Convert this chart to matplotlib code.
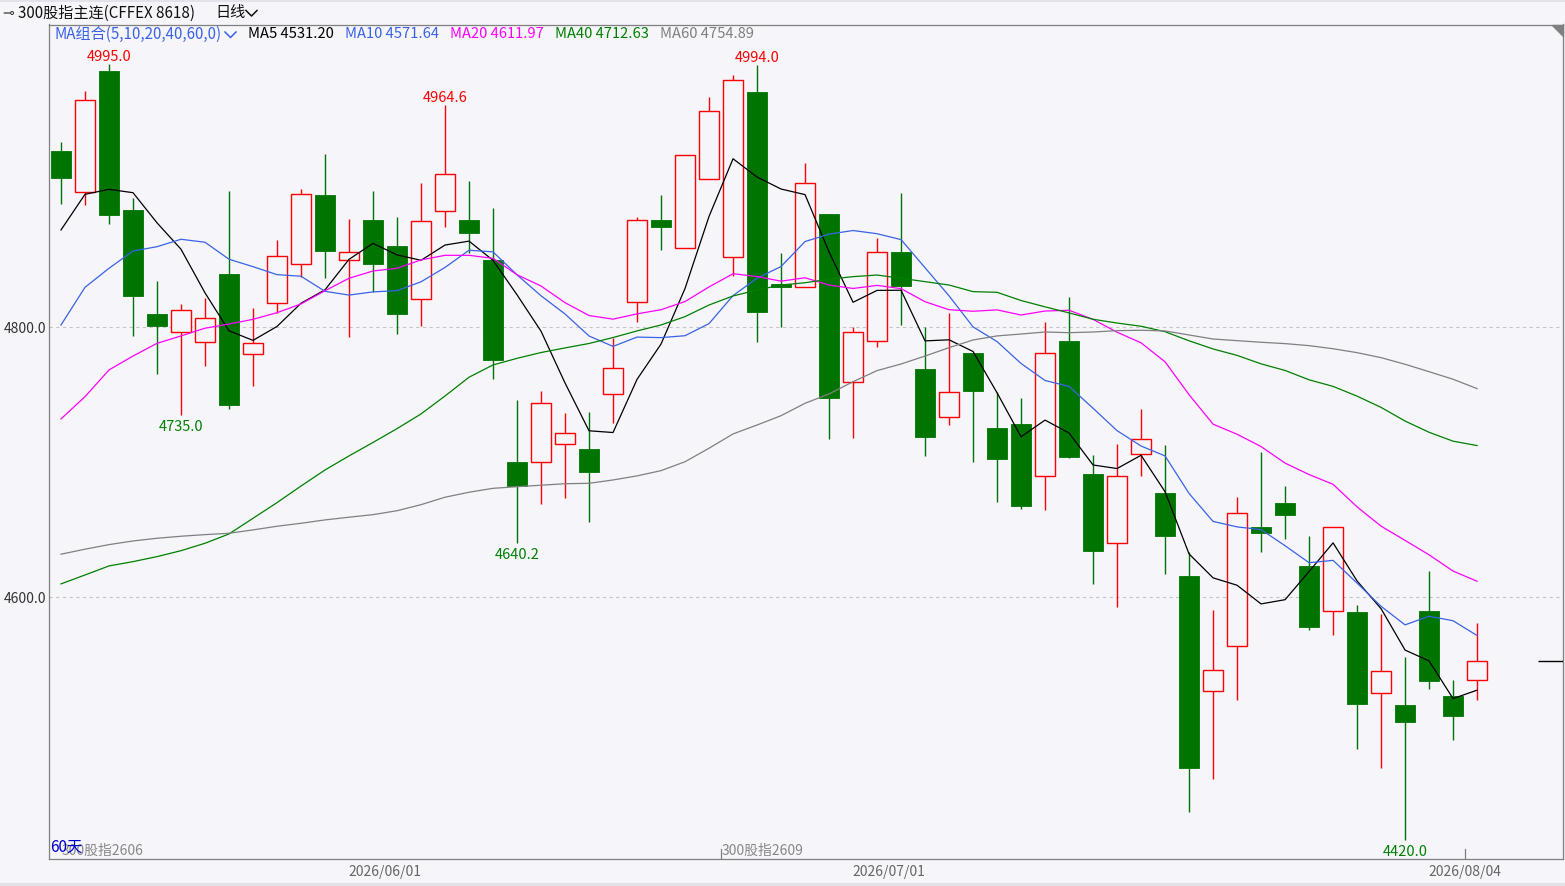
#%% Import
import numpy as np
import pandas as pd
import matplotlib.pyplot as plt
from matplotlib.patches import Rectangle, Polygon
from matplotlib.lines import Line2D

plt.rcParams['font.family'] = ['Noto Sans CJK SC', 'DejaVu Sans']

#%% Data (daily bars, 60 days)
open_ = [4930.6, 4900.4, 4989.9, 4886.9, 4809.9, 4796.7, 4789.3, 4839.5, 4780.0, 4817.8,
         4846.7, 4898.0, 4849.6, 4879.5, 4860.2, 4820.7, 4885.9, 4879.5, 4849.9, 4700.2,
         4700.0, 4713.3, 4709.9, 4750.4, 4818.5, 4879.3, 4858.5, 4909.6, 4851.9, 4974.3,
         4832.1, 4829.6, 4883.9, 4759.3, 4789.6, 4855.8, 4769.1, 4733.3, 4781.0, 4725.4,
         4728.4, 4689.6, 4789.9, 4691.3, 4640.0, 4705.9, 4677.3, 4615.8, 4530.4, 4563.7,
         4652.1, 4669.9, 4623.2, 4589.6, 4589.1, 4528.9, 4520.2, 4589.9, 4526.9, 4538.5]
high = [4937.5, 4975.3, 4995.0, 4895.6, 4834.5, 4817.3, 4821.7, 4901.0, 4814.5, 4864.7,
        4902.4, 4928.4, 4880.2, 4901.0, 4881.7, 4906.9, 4964.6, 4908.6, 4888.6, 4746.1,
        4752.8, 4736.5, 4737.3, 4792.3, 4881.5, 4898.0, 4927.4, 4970.6, 4986.9, 4994.0,
        4855.3, 4921.5, 4883.9, 4800.4, 4865.9, 4899.7, 4800.0, 4810.6, 4781.0, 4752.3,
        4747.6, 4803.9, 4822.4, 4705.4, 4713.6, 4739.5, 4712.8, 4633.8, 4590.6, 4674.3,
        4707.6, 4682.4, 4645.4, 4651.9, 4594.3, 4587.6, 4555.8, 4619.5, 4538.7, 4581.0]
low = [4891.3, 4890.6, 4876.7, 4793.8, 4765.2, 4735.0, 4771.6, 4739.7, 4756.7, 4810.4,
       4837.5, 4836.7, 4793.0, 4825.9, 4795.3, 4801.2, 4874.5, 4854.8, 4761.9, 4640.2,
       4669.3, 4673.8, 4656.0, 4729.3, 4804.1, 4857.3, 4858.5, 4909.6, 4838.0, 4789.3,
       4800.4, 4829.6, 4717.0, 4718.2, 4785.6, 4801.7, 4704.9, 4727.6, 4700.4, 4670.8,
       4665.6, 4664.9, 4703.4, 4610.1, 4593.0, 4690.1, 4617.5, 4441.2, 4465.2, 4524.1,
       4633.8, 4643.4, 4576.0, 4572.3, 4487.9, 4473.8, 4420.0, 4532.3, 4494.5, 4524.1]
close = [4910.8, 4968.4, 4883.4, 4823.4, 4801.0, 4812.8, 4806.9, 4742.7, 4788.1, 4852.6,
         4898.7, 4856.7, 4855.6, 4847.1, 4810.1, 4878.5, 4913.3, 4870.1, 4776.0, 4682.4,
         4743.7, 4721.5, 4693.0, 4769.6, 4879.3, 4874.5, 4927.4, 4960.0, 4983.0, 4811.6,
         4830.1, 4906.7, 4747.9, 4796.3, 4855.6, 4830.8, 4719.0, 4751.9, 4753.0, 4702.7,
         4667.9, 4780.7, 4704.1, 4634.5, 4689.6, 4717.0, 4645.6, 4473.8, 4545.9, 4662.2,
         4647.9, 4661.2, 4578.2, 4651.9, 4521.2, 4545.2, 4507.9, 4538.0, 4512.3, 4552.6]

# moving average values before enough bars exist in the window
ma5_head = [4872.1, 4898.5, 4902.2, 4899.7]
ma10_head = [4801.7, 4829.6, 4843.7, 4856.5, 4859.7, 4865.2, 4863.0, 4850.4, 4844.9]
ma20_head = [4732.1, 4748.6, 4768.4, 4778.7, 4788.1, 4793.6, 4799.3, 4802.4, 4805.9, 4810.8,
             4817.3, 4827.1, 4836.3, 4841.7, 4843.7, 4849.9, 4853.3, 4853.3, 4851.1]
ma40_head = [4609.9, 4616.5, 4623.2, 4626.4, 4630.1, 4634.5, 4640.0, 4646.9, 4658.5, 4670.1,
             4682.4, 4694.3, 4704.7, 4714.7, 4724.9, 4735.8, 4749.1, 4763.0, 4772.1, 4777.0,
             4781.3, 4784.7, 4788.0, 4792.4, 4797.3, 4801.7, 4807.9, 4816.5, 4823.2, 4827.6,
             4831.3, 4833.0, 4835.6, 4837.5, 4838.7, 4836.3, 4833.8, 4831.3, 4826.4]
ma60_head = [4631.9, 4635.6, 4639.0, 4641.7, 4643.7, 4645.2, 4646.4, 4647.4, 4649.9, 4652.6,
             4654.8, 4657.3, 4659.3, 4661.2, 4664.1, 4668.6, 4674.1, 4677.8, 4680.7, 4681.9,
             4683.0, 4684.1, 4684.4, 4686.9, 4689.9, 4693.8, 4700.4, 4710.4, 4721.0, 4727.6,
             4734.5, 4743.7, 4750.6, 4759.7, 4767.9, 4772.8, 4778.7, 4784.9, 4790.6, 4793.6,
             4795.0, 4796.5, 4796.0, 4796.5, 4797.5, 4797.8, 4797.3, 4794.3, 4791.3, 4790.1,
             4788.9, 4787.9, 4786.4, 4784.1, 4781.2, 4777.5, 4772.6, 4767.1, 4761.5]

ma_names = ['MA5', 'MA10', 'MA20', 'MA40', 'MA60']
ma_last = ['4531.20', '4571.64', '4611.97', '4712.63', '4754.89']

high_marks = [2, 16, 29]
low_marks = [5, 19, 56]

date_pos = [13.5, 34.5, 58.5]
date_labels = ['2026/06/01', '2026/07/01', '2026/08/04']
contract_pos = [0.0, 27.5]
contract_labels = ['300股指2606', '300股指2609']

#%% Styles
W, H = 1565, 886
bg = '#F5F5FA'
up_col = '#FF0000'
dn_col = '#007400'
ma_cols = ['#000000', '#3A62E8', '#FF00FF', '#008000', '#808080']


def moving_avg(head, n):
    tail = pd.Series(close).rolling(n).mean().to_numpy()[n - 1:]
    return np.concatenate([head, tail])


mas = [moving_avg(ma5_head, 5), moving_avg(ma10_head, 10), moving_avg(ma20_head, 20),
       moving_avg(ma40_head, 40), moving_avg(ma60_head, 60)]

#%% Figure
fig = plt.figure(figsize=(W / 100, H / 100), dpi=100, facecolor=bg)
ax = fig.add_axes([49 / W, 1 - 859 / H, (1563 - 49) / W, (859 - 24.5) / H])
ax.set_facecolor(bg)
ax.set_xlim(-0.5, 62.58)
ax.set_ylim(4406.1, 5024.3)

for s in ax.spines.values():
    s.set_color('#808080')
    s.set_linewidth(0.9)

# dashed price grid
for lvl in [4600, 4800]:
    ax.axhline(lvl, color='#C4C4C4', lw=0.8, dashes=(3, 3), zorder=1)

# candles
bw = 0.82
n = len(close)
x = np.arange(n)
for i in range(n):
    o, h, l, c = open_[i], high[i], low[i], close[i]
    top, bot = max(o, c), min(o, c)
    body_h = max(top - bot, 0.6)
    if c >= o:
        ax.vlines(i, top, h, color=up_col, lw=1.0, zorder=2)
        ax.vlines(i, l, bot, color=up_col, lw=1.0, zorder=2)
        ax.add_patch(Rectangle((i - bw / 2, bot), bw, body_h, facecolor=bg,
                               edgecolor=up_col, lw=1.0, zorder=2))
    else:
        ax.vlines(i, l, h, color=dn_col, lw=1.0, zorder=2)
        ax.add_patch(Rectangle((i - bw / 2, bot), bw, body_h, facecolor=dn_col,
                               edgecolor=dn_col, lw=0.6, zorder=2))

# moving averages
for vals, col in zip(mas, ma_cols):
    ax.plot(x, vals, color=col, lw=0.9, zorder=3)

# extreme labels
for i in high_marks:
    ax.annotate(f'{high[i]:.1f}', (i, high[i]), xytext=(0, 0), textcoords='offset points',
                ha='center', va='bottom', color='#FF0000', fontsize=10.5)
for i in low_marks:
    ax.annotate(f'{low[i]:.1f}', (i, low[i]), xytext=(0, -3.5), textcoords='offset points',
                ha='center', va='top', color='#008000', fontsize=10.5)

# last price marker at right edge
ax.hlines(close[-1], 61.54, 62.58, color='black', lw=1.0, zorder=3)

# y labels
ax.set_yticks([4600, 4800])
ax.set_yticklabels(['4600.0', '4800.0'], fontsize=10, color='#333333')
ax.tick_params(axis='y', length=0, pad=2)

# x labels
ax.set_xticks(date_pos)
ax.set_xticklabels(date_labels, fontsize=10, color='#666666')
ax.tick_params(axis='x', length=0, pad=4.5)
for p in [27.5, 58.5]:
    ax.plot([p, p], [4406.1, 4413.5], color='#808080', lw=0.9, zorder=3)

# contract labels and window length (they overlap in the original as well)
for p, lab in zip(contract_pos, contract_labels):
    ax.text(p + 0.02, 4406.8, lab, fontsize=10, color='#888888', ha='left', va='bottom')
ax.text(-0.46, 4408.5, '60天', fontsize=11, color='#0000CC', ha='left', va='bottom')


#%% Header and legend row
def ftext(px, py, s, **kw):
    fig.text(px / W, 1 - py / H, s, va='center', **kw)


def chevron(px, py, col):
    xs = [px / W, (px + 5.5) / W, (px + 11) / W]
    ys = [1 - py / H, 1 - (py + 5.5) / H, 1 - py / H]
    fig.add_artist(Line2D(xs, ys, color=col, lw=1.1, transform=fig.transFigure))


ftext(2, 13, '⊸', fontsize=10, color='#333333', family=['DejaVu Sans'])
ftext(18, 13, '300股指主连(CFFEX 8618)', fontsize=10.9, color='#111111')
ftext(215, 13, '日线', fontsize=10.9, color='#111111')
chevron(246, 10.5, '#111111')

ftext(55, 34, 'MA组合(5,10,20,40,60,0)', fontsize=10.9, color='#3A62E8')
chevron(225, 32, '#3A62E8')
leg_x = [248, 345, 450, 555, 660]
for px, name, val, col in zip(leg_x, ma_names, ma_last, ma_cols):
    ftext(px, 34, f'{name} {val}', fontsize=10.6, color=col)

# small decorations: corner flag and bottom band
fig.add_artist(Polygon([[1552 / W, 1 - 25 / H], [1563 / W, 1 - 25 / H], [1563 / W, 1 - 36 / H]],
                       closed=True, transform=fig.transFigure, color='#808080'))
fig.add_artist(Rectangle((0, 0), 1, 3 / H, transform=fig.transFigure, color='#E2E2E8', lw=0))
fig.add_artist(Rectangle((0, 1 - 1.5 / H), 1, 1.5 / H, transform=fig.transFigure, color='#E2E2E8', lw=0))

fig.savefig('out.png', dpi=100, facecolor=bg)
